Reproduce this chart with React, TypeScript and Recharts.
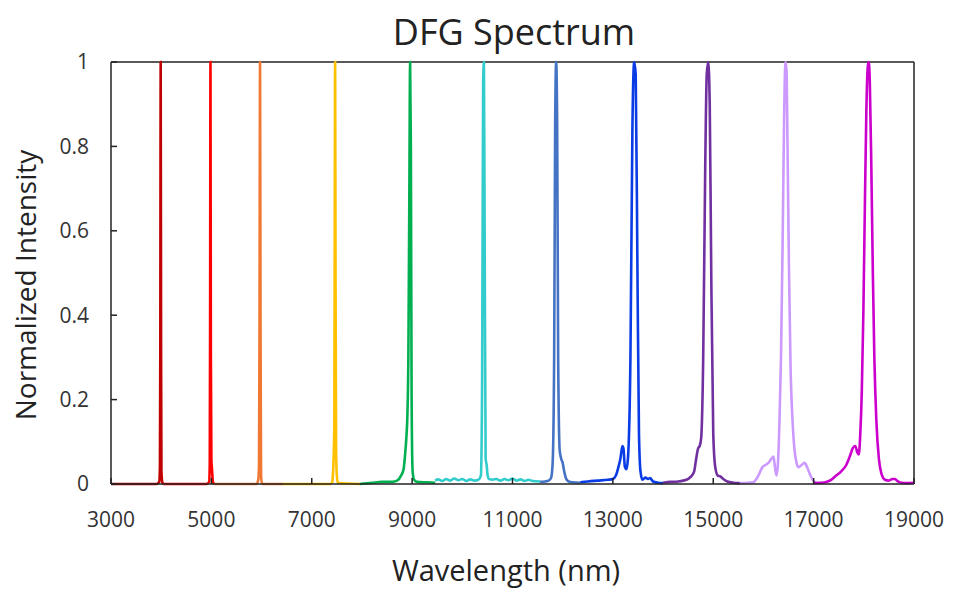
import React from "react";
import { LineChart, Line, XAxis, YAxis, ReferenceLine } from "recharts";

const xTicks = [3000, 5000, 7000, 9000, 11000, 13000, 15000, 17000, 19000];
const yTicks = [0, 0.2, 0.4, 0.6, 0.8, 1];

const darkRedX = [3000, 3900, 3960, 3975, 3982, 3990, 3998, 4005, 4020, 4040];
const darkRedY = [0, 0, 0.005, 0.04, 0.3, 1, 0.3, 0.03, 0.005, 0];

const redX = [4040, 4900, 4955, 4968, 4975, 4982, 4990, 5000, 5015, 5030, 5060];
const redY = [0, 0, 0.005, 0.05, 0.4, 1, 0.3, 0.06, 0.03, 0.005, 0];

const orangeX = [5060, 5900, 5935, 5950, 5960, 5970, 5980, 5990, 6010, 6430];
const orangeY = [0, 0, 0.01, 0.05, 0.4, 1, 0.35, 0.02, 0, 0];

const yellowX = [6430, 7380, 7410, 7425, 7440, 7450, 7458, 7466, 7474, 7485, 7500, 7520, 7960];
const yellowY = [0, 0, 0.005, 0.03, 0.08, 0.15, 0.6, 1, 0.5, 0.08, 0.02, 0.003, 0];

const greenX = [7960, 8200, 8400, 8600, 8700, 8780, 8830, 8860, 8885, 8905, 8925, 8945, 8960, 8975, 8990, 9010, 9040, 9100, 9300, 9460];
const greenY = [0, 0.003, 0.005, 0.005, 0.008, 0.02, 0.035, 0.07, 0.11, 0.16, 0.3, 0.7, 1, 0.8, 0.2, 0.03, 0.01, 0.005, 0.004, 0.003];

const cyanX = [9460, 9520, 9600, 9680, 9760, 9840, 9920, 10000, 10080, 10160, 10240, 10320, 10370, 10395, 10415, 10430, 10445, 10465, 10485, 10505, 10530, 10600, 10680, 10760, 10840, 10920, 11000, 11080, 11160, 11240, 11320, 11400, 11550];
const cyanY = [0.008, 0.011, 0.007, 0.012, 0.008, 0.013, 0.009, 0.012, 0.007, 0.011, 0.008, 0.01, 0.02, 0.25, 0.95, 1, 0.6, 0.06, 0.045, 0.02, 0.012, 0.01, 0.012, 0.008, 0.012, 0.009, 0.013, 0.008, 0.011, 0.007, 0.01, 0.007, 0.006];

const lightBlueX = [11550, 11650, 11720, 11770, 11800, 11830, 11850, 11870, 11890, 11910, 11940, 11970, 12000, 12030, 12070, 12120, 12200, 12350];
const lightBlueY = [0.005, 0.006, 0.008, 0.015, 0.05, 0.3, 0.85, 1, 0.85, 0.3, 0.08, 0.06, 0.05, 0.03, 0.012, 0.006, 0.004, 0.003];

const blueX = [12350, 12500, 12700, 12900, 13000, 13060, 13110, 13150, 13190, 13210, 13240, 13270, 13300, 13350, 13390, 13425, 13455, 13490, 13520, 13550, 13590, 13650, 13700, 13740, 13800, 13900, 14000];
const blueY = [0.004, 0.006, 0.008, 0.01, 0.012, 0.02, 0.04, 0.06, 0.09, 0.085, 0.04, 0.035, 0.06, 0.3, 0.85, 1, 0.97, 0.5, 0.12, 0.03, 0.01, 0.015, 0.012, 0.014, 0.006, 0.003, 0.002];

const purpleX = [14000, 14150, 14300, 14400, 14500, 14560, 14620, 14660, 14700, 14730, 14760, 14800, 14840, 14870, 14900, 14930, 14960, 15000, 15040, 15090, 15140, 15200, 15280, 15400, 15530];
const purpleY = [0.003, 0.005, 0.006, 0.008, 0.012, 0.018, 0.03, 0.06, 0.085, 0.09, 0.11, 0.3, 0.75, 0.97, 1, 0.9, 0.5, 0.12, 0.04, 0.02, 0.018, 0.012, 0.006, 0.003, 0.002];

const lavenderX = [15530, 15700, 15800, 15860, 15920, 15980, 16040, 16100, 16160, 16200, 16230, 16260, 16290, 16320, 16350, 16380, 16410, 16440, 16460, 16480, 16510, 16540, 16580, 16620, 16660, 16700, 16760, 16820, 16870, 16920, 16980, 17060, 17170];
const lavenderY = [0.002, 0.003, 0.004, 0.012, 0.025, 0.04, 0.045, 0.05, 0.06, 0.065, 0.04, 0.02, 0.05, 0.15, 0.3, 0.55, 0.85, 1, 0.98, 0.8, 0.5, 0.28, 0.15, 0.08, 0.05, 0.04, 0.045, 0.05, 0.04, 0.025, 0.01, 0.003, 0.002];

const magentaX = [17000, 17150, 17250, 17350, 17450, 17550, 17650, 17720, 17780, 17830, 17870, 17900, 17930, 17960, 17990, 18020, 18050, 18080, 18100, 18120, 18150, 18180, 18210, 18250, 18300, 18350, 18420, 18500, 18570, 18620, 18680, 18750, 18850, 19000];
const magentaY = [0.002, 0.003, 0.005, 0.01, 0.02, 0.03, 0.045, 0.065, 0.085, 0.09, 0.075, 0.07, 0.12, 0.22, 0.4, 0.65, 0.88, 0.99, 1, 0.95, 0.75, 0.5, 0.3, 0.15, 0.06, 0.025, 0.01, 0.008, 0.012, 0.012, 0.006, 0.003, 0.002, 0.003];

const pts = (xs: number[], ys: number[]) => xs.map((x, i) => ({ x, y: ys[i] }));

const series = [
  { name: "s1", color: "#c00000", data: pts(darkRedX, darkRedY) },
  { name: "s2", color: "#ff0000", data: pts(redX, redY) },
  { name: "s3", color: "#f07833", data: pts(orangeX, orangeY) },
  { name: "s4", color: "#ffc000", data: pts(yellowX, yellowY) },
  { name: "s5", color: "#00b050", data: pts(greenX, greenY) },
  { name: "s6", color: "#33cccc", data: pts(cyanX, cyanY) },
  { name: "s7", color: "#4472c4", data: pts(lightBlueX, lightBlueY) },
  { name: "s8", color: "#0a3ce6", data: pts(blueX, blueY) },
  { name: "s9", color: "#7030a0", data: pts(purpleX, purpleY) },
  { name: "s10", color: "#cc99ff", data: pts(lavenderX, lavenderY) },
  { name: "s11", color: "#cc00cc", data: pts(magentaX, magentaY) },
];

const FONT = "'Open Sans', 'Noto Sans', sans-serif";

export default function App() {
  return (
    <div style={{ position: "absolute", left: 0, top: 0, width: 954, height: 607, background: "#fff", fontFamily: FONT }}>
      <LineChart width={954} height={607} margin={{ top: 62, right: 40, bottom: 93, left: 0 }}>
        <XAxis
          type="number"
          dataKey="x"
          domain={[3000, 19000]}
          ticks={xTicks}
          allowDataOverflow
          height={30}
          tickSize={-6}
          tickMargin={34}
          stroke="#222"
          strokeWidth={1.5}
          tick={{ fill: "#333", fontSize: 21, fontFamily: FONT }}
        />
        <YAxis
          type="number"
          dataKey="y"
          domain={[0, 1]}
          ticks={yTicks}
          width={111}
          tickSize={-6}
          tickMargin={28}
          stroke="#222"
          strokeWidth={1.5}
          tick={{ fill: "#333", fontSize: 21, fontFamily: FONT }}
        />
        <ReferenceLine y={1} stroke="#222" strokeWidth={1.5} />
        <ReferenceLine x={19000} stroke="#222" strokeWidth={1.5} />
        {series.map((s) => (
          <Line
            key={s.name}
            data={s.data}
            dataKey="y"
            name={s.name}
            type="monotone"
            stroke={s.color}
            strokeWidth={2.6}
            dot={false}
            activeDot={false}
            isAnimationActive={false}
          />
        ))}
      </LineChart>
      <div style={{ position: "absolute", left: 0, width: 1028, top: 10, textAlign: "center", fontSize: 36, color: "#222", lineHeight: "44px" }}>
        DFG Spectrum
      </div>
      <div style={{ position: "absolute", left: 0, width: 1012, top: 551, textAlign: "center", fontSize: 29, color: "#222", lineHeight: "38px" }}>
        Wavelength (nm)
      </div>
      <div
        style={{
          position: "absolute",
          left: 25,
          top: 285,
          transform: "translate(-50%, -50%) rotate(-90deg)",
          whiteSpace: "nowrap",
          fontSize: 28,
          color: "#222",
          lineHeight: "34px",
        }}
      >
        Normalized Intensity
      </div>
    </div>
  );
}
